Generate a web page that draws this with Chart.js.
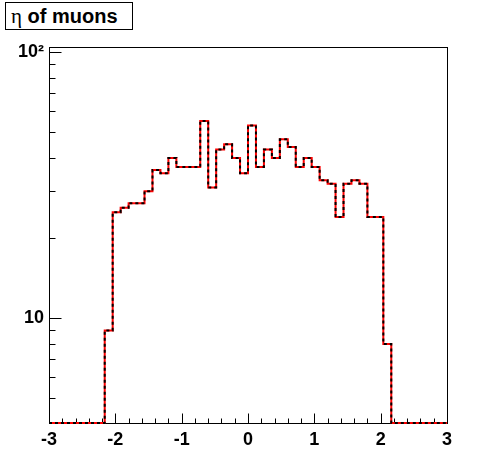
<!DOCTYPE html>
<html>
<head>
<meta charset="utf-8">
<script src="https://cdn.jsdelivr.net/npm/chart.js@4"></script>
<style>
  body { margin: 0; background: #fff; }
  #wrap { position: relative; width: 496px; height: 472px; }
  #title {
    position: absolute; left: 5px; top: 2px; width: 124px; height: 26px;
    border: 1px solid #000; background: #fff;
    font: bold 20px "Liberation Sans", Arial, sans-serif;
    line-height: 26px; white-space: nowrap; box-sizing: content-box;
    padding-left: 2px;
  }
  #title .eta { font: 21px "Liberation Serif", "DejaVu Serif", serif; margin-left: 3px; }
</style>
</head>
<body>
<div id="wrap">
  <canvas id="myChart" width="496" height="472"></canvas>
  <div id="title"><span class="eta">η</span> of muons</div>
</div>
<script>
// histogram: eta of muons, 50 bins from -3 to 3
const etaMin = -3
const etaMax = 3
const counts = [
  0, 0, 0, 0, 0, 0, 0, 9, 25, 26,
  27, 27, 30, 36, 35, 40, 37, 37, 37, 55,
  31, 43, 45, 40, 35, 53, 37, 43, 40, 47,
  44, 37, 40, 37, 33, 32, 24, 32, 33, 32,
  24, 24, 8, 0, 0, 0, 0, 0, 0, 0
]
const xTicks = [-3, -2, -1, 0, 1, 2, 3]
const yTicks = [10, 100]
const yTickLabels = ['10', '10²']
const yMin = 4.04
const yMax = 104.4

const binWidth = (etaMax - etaMin) / counts.length
// zero bins get drawn along the bottom of the frame, like ROOT does on a log axis
let points = []
for (let i = 0; i <= counts.length; i++) {
  let c = counts[Math.max(i - 1, 0)]
  points.push({ x: etaMin + i * binWidth, y: c > 0 ? c : yMin })
}

const font = { family: "'Liberation Sans', Arial, sans-serif", size: 18, weight: 'bold' }

// frame + inward ticks
const rootFrame = {
  id: 'rootFrame',
  beforeDatasetsDraw(chart) {
    const { ctx, chartArea: a, scales: { x, y } } = chart
    ctx.save()
    ctx.strokeStyle = '#000'
    ctx.lineWidth = 1
    ctx.strokeRect(Math.round(a.left) + 0.5, Math.round(a.top) + 0.5,
      Math.round(a.right - a.left), Math.round(a.bottom - a.top))
    ctx.beginPath()
    let bottom = Math.round(a.bottom) + 0.5
    for (let i = 0; i <= 30; i++) {
      let v = etaMin + i * 0.2
      let px = Math.round(x.getPixelForValue(v)) + 0.5
      let len = i % 5 === 0 ? 10 : 5
      ctx.moveTo(px, bottom)
      ctx.lineTo(px, bottom - len)
    }
    let left = Math.round(a.left) + 0.5
    let minor = [5, 6, 7, 8, 9, 10, 20, 30, 40, 50, 60, 70, 80, 90, 100]
    minor.forEach(v => {
      let py = Math.round(y.getPixelForValue(v)) + 0.5
      let len = yTicks.includes(v) ? 12 : 6
      ctx.moveTo(left, py)
      ctx.lineTo(left + len, py)
    })
    ctx.stroke()
    ctx.restore()
  }
}

const ctx = document.getElementById('myChart').getContext('2d')
new Chart(ctx, {
  type: 'line',
  data: {
    datasets: [
      {
        data: points,
        borderColor: '#000',
        borderWidth: 2,
        borderDash: [3, 3],
        stepped: 'after',
        pointRadius: 0,
        fill: false,
        clip: false,
        order: 0
      },
      {
        data: points,
        borderColor: '#ff0000',
        borderWidth: 2,
        stepped: 'after',
        pointRadius: 0,
        fill: false,
        clip: false,
        order: 1
      }
    ]
  },
  options: {
    responsive: false,
    animation: false,
    layout: { padding: { top: 47, right: 49, left: 0, bottom: 0 } },
    plugins: { legend: { display: false }, tooltip: { enabled: false } },
    scales: {
      x: {
        type: 'linear', min: etaMin, max: etaMax,
        grid: { display: false, drawTicks: false },
        border: { display: false },
        ticks: { padding: 6, color: '#000', font: font, maxRotation: 0,
          callback: v => String(v) },
        afterBuildTicks: s => { s.ticks = xTicks.map(v => ({ value: v })) },
        afterFit: s => { s.height = 49 }
      },
      y: {
        type: 'logarithmic', min: yMin, max: yMax,
        grid: { display: false, drawTicks: false },
        border: { display: false },
        ticks: { padding: 5, color: '#000', font: font,
          callback: v => yTickLabels[yTicks.indexOf(v)] || '' },
        afterBuildTicks: s => { s.ticks = yTicks.map(v => ({ value: v })) },
        afterFit: s => { s.width = 49 }
      }
    }
  },
  plugins: [rootFrame]
})
</script>
</body>
</html>
